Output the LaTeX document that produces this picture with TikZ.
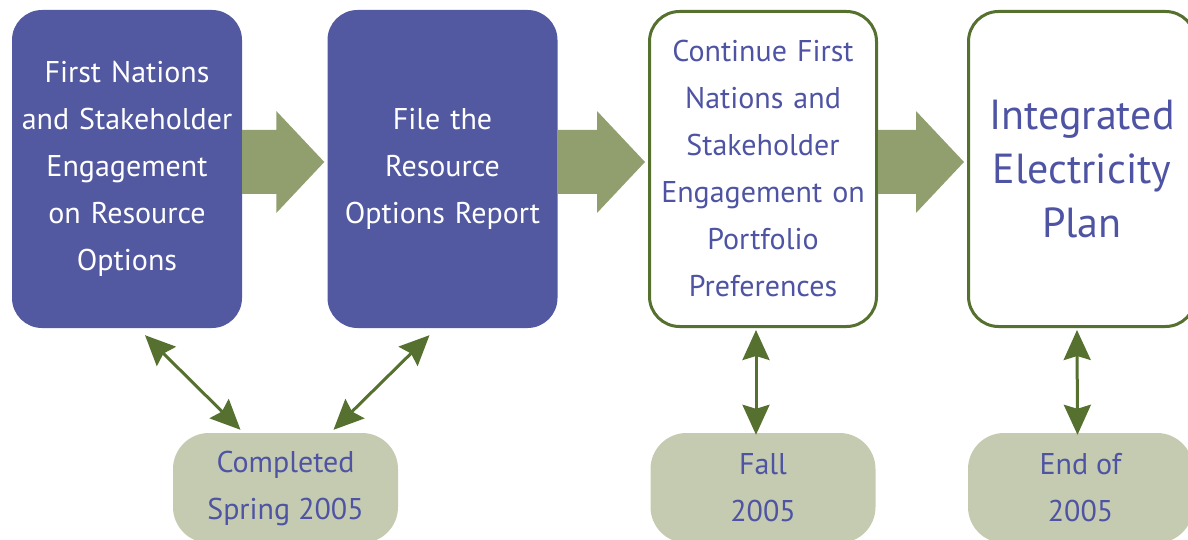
\documentclass[tikz,border=0pt]{standalone}
\usepackage{fontspec}
\setmainfont{PT Sans}
\usetikzlibrary{arrows.meta}

\definecolor{boxblue}{RGB}{82,89,160}
\definecolor{textblue}{RGB}{78,84,163}
\definecolor{darkgreen}{RGB}{85,112,47}
\definecolor{arrowgreen}{RGB}{145,159,110}
\definecolor{pillgreen}{RGB}{197,203,176}

\tikzset{
    stagebox/.style={rounded corners=30pt, minimum width=230pt, minimum height=318pt,
        text width=224pt, align=center, inner sep=0pt, font=\fontsize{30}{47}\selectfont},
    donebox/.style={stagebox, fill=boxblue, text=white},
    openbox/.style={stagebox, draw=darkgreen, line width=3pt, fill=white, text=textblue,
        minimum width=227pt, minimum height=315pt},
    datepill/.style={rounded corners=36pt, fill=pillgreen, text=textblue, minimum width=225pt,
        minimum height=110pt, align=center, inner sep=0pt, font=\fontsize{30}{47}\selectfont},
    flowarrow/.style={fill=arrowgreen},
    linktip/.tip={Stealth[length=30pt, width=27pt, inset=4pt]},
    link/.style={draw=darkgreen, line width=3pt, linktip-linktip}
}

\begin{document}
\begin{tikzpicture}[x=1pt, y=1pt]
    \useasboundingbox (0,0) rectangle (1188,539);
    \clip (0,0) rectangle (1188,539);

    % Stages
    \node[donebox] (b1) at (127,370) {First Nations\\and Stakeholder\\Engagement\\on Resource\\Options};
    \node[donebox] (b2) at (442.5,370) {File the\\Resource\\Options Report};
    \node[openbox] (b3) at (763,370) {Continue First\\Nations and\\Stakeholder\\Engagement on\\Portfolio\\Preferences};
    \node[openbox, font=\fontsize{42}{54}\selectfont] (b4) at (1082,370) {Integrated\\Electricity\\Plan};

    % Dates
    \node[datepill] (p1) at (285.5,51) {Completed\\Spring 2005};
    \node[datepill] (p2) at (763,51) {Fall\\2005};
    \node[datepill] (p3) at (1080.5,51) {End of\\2005};

    % Draw
    \foreach \a/\b in {b1/b2, b2/b3, b3/b4}
        \fill[flowarrow] ([yshift=39pt]\a.east) -- ([xshift=-51pt, yshift=39pt]\b.west)
            -- ([xshift=-51pt, yshift=58pt]\b.west) -- ([xshift=-3pt, yshift=7pt]\b.west)
            -- ([xshift=-51pt, yshift=-44pt]\b.west) -- ([xshift=-51pt, yshift=-25pt]\b.west)
            -- ([yshift=-25pt]\a.east) -- cycle;

    \draw[link] ([xshift=18pt, yshift=-7pt]b1.south) -- ([xshift=-45pt, yshift=3pt]p1.north);
    \draw[link] ([xshift=-13pt, yshift=-7pt]b2.south) -- ([xshift=48pt, yshift=3pt]p1.north);
    \draw[link] ([xshift=-7pt, yshift=-2pt]b3.south) -- ([xshift=-7pt, yshift=-2pt]p2.north);
    \draw[link] ([xshift=-5pt, yshift=-2pt]b4.south) -- ([xshift=-3pt, yshift=-2pt]p3.north);
\end{tikzpicture}
\end{document}
